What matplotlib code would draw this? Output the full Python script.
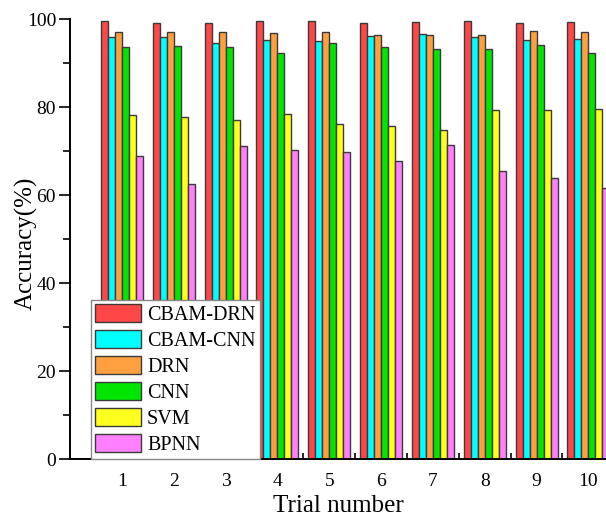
import matplotlib
matplotlib.use("Agg")
import matplotlib.pyplot as plt
import numpy as np

trials = [1, 2, 3, 4, 5, 6, 7, 8, 9, 10]
series_names = ["CBAM-DRN", "CBAM-CNN", "DRN", "CNN", "SVM", "BPNN"]
cbam_drn = [99.6, 99.2, 99.2, 99.7, 99.7, 99.2, 99.3, 99.5, 99.2, 99.4]
cbam_cnn = [95.9, 96.0, 94.5, 95.4, 95.1, 96.1, 96.6, 96.0, 95.3, 95.6]
drn      = [97.0, 97.2, 97.2, 96.8, 97.0, 96.4, 96.5, 96.4, 97.4, 97.2]
cnn      = [93.8, 94.0, 93.8, 92.4, 94.5, 93.6, 93.3, 93.2, 94.1, 92.3]
svm      = [78.2, 77.7, 77.0, 78.4, 76.3, 75.7, 74.9, 79.3, 79.4, 79.5]
bpnn     = [68.9, 62.5, 71.2, 70.2, 69.9, 67.7, 71.3, 65.4, 63.8, 61.7]
colors = ["#FF4747", "#00FFFF", "#FFA040", "#00E600", "#FFFF1E", "#FF80FF"]

plt.rcParams['font.family'] = ['Liberation Serif', 'DejaVu Serif']

fig = plt.figure(figsize=(6.06, 5.16), dpi=100)
ax = fig.add_axes([70/606, 1-459/516, 1-70/606, (459-19.3)/516])

data = [cbam_drn, cbam_cnn, drn, cnn, svm, bpnn]
x = np.array(trials, dtype=float)
w = 0.135
for i, (vals, name, c) in enumerate(zip(data, series_names, colors)):
    ax.bar(x + (i - 2.5) * w, vals, width=w, color=c, edgecolor="#3a3a3a",
           linewidth=1.0, label=name, zorder=2)

ax.set_xlim(0, 10.34)
ax.set_ylim(0, 100)
ax.set_xticks(trials)
ax.set_xticks(np.arange(1.5, 10, 1.0), minor=True)
ax.set_yticks([0, 20, 40, 60, 80, 100])
ax.set_yticks([10, 30, 50, 70, 90], minor=True)
ax.tick_params(axis='x', which='major', length=0, labelsize=14, pad=10)
ax.tick_params(axis='x', which='minor', direction='in', length=4, width=1.2)
ax.tick_params(axis='y', which='major', direction='out', length=8, width=1.2, labelsize=14, pad=2)
ax.tick_params(axis='y', which='minor', direction='out', length=5, width=1.2)
for s in ['top', 'right']:
    ax.spines[s].set_visible(False)
for s in ['left', 'bottom']:
    ax.spines[s].set_linewidth(1.4)
    ax.spines[s].set_zorder(3)

ax.set_xlabel("Trial number", fontsize=18, labelpad=4)
ax.set_ylabel("Accuracy(%)", fontsize=18, va='center')
ax.yaxis.set_label_coords(-44/536, 0.49)

leg = ax.legend(loc='lower left', bbox_to_anchor=(0.40, 0.0), bbox_transform=ax.transData,
                borderaxespad=0, fontsize=14.5, fancybox=False, framealpha=1,
                edgecolor="#888888", handlelength=2.3, handleheight=1.05,
                handletextpad=0.3, labelspacing=0.24, borderpad=0.2)
leg.get_frame().set_linewidth(1.0)
leg.set_zorder(5)

fig.savefig("out.png", dpi=100)
